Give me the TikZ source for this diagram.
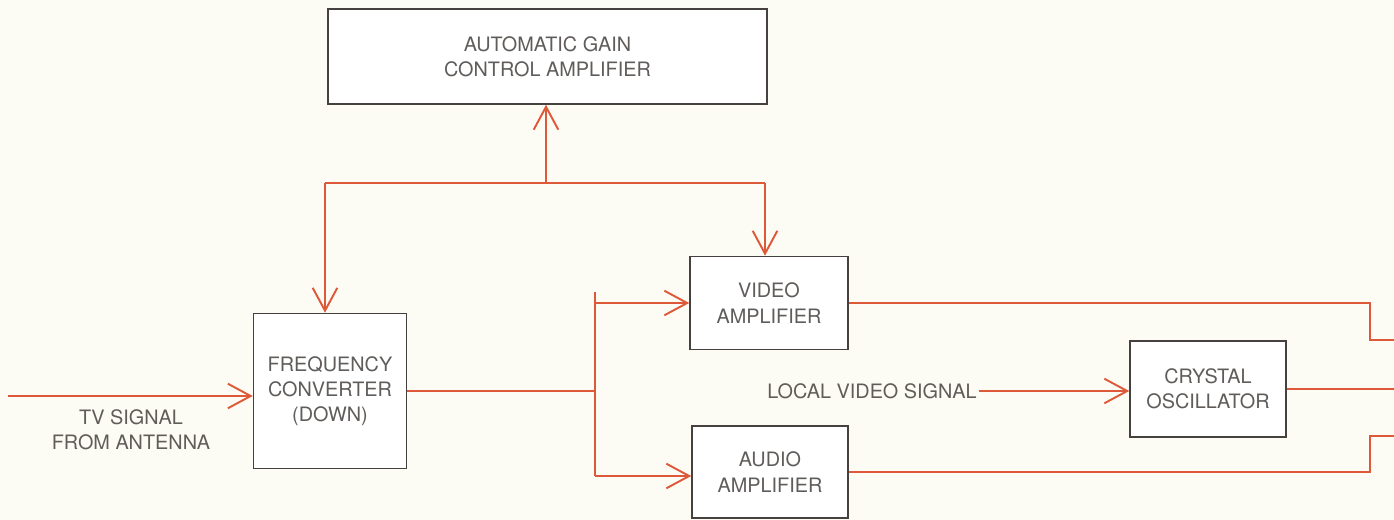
\documentclass[tikz,border=0pt]{standalone}
\usepackage{fontspec}
\setmainfont{TeX Gyre Heros}
\usepackage{tikz}
\usetikzlibrary{arrows.meta, positioning}
\definecolor{sigred}{RGB}{222, 88, 58}
\definecolor{boxgray}{RGB}{70, 64, 62}
\definecolor{txtgray}{RGB}{95, 92, 90}
\definecolor{paper}{RGB}{253, 252, 244}

\begin{document}
\begin{tikzpicture}[x=0.02cm, y=-0.02cm,
  every node/.style={font=\fontsize{11.3}{14.4}\selectfont, text=txtgray},
  block/.style={draw=boxgray, line width=0.9pt, fill=white, align=center, inner sep=2pt},
  sig/.style={draw=sigred, line width=1.1pt},
  tip/.style={-{Straight Barb[length=13pt, width=14pt, line width=1.1pt]}}]

% paper and frame
\fill[paper] (0,0) rectangle (1394,520);
\useasboundingbox (0,0) rectangle (1394,520);

% Blocks
\node[block, minimum width=8.78cm, minimum height=1.9cm] (agc) at (547.5, 56.5)
  {AUTOMATIC GAIN\\CONTROL AMPLIFIER};
\node[block, minimum width=3.06cm, minimum height=3.1cm] (freq) at (330, 391)
  {FREQUENCY\\CONVERTER\\(DOWN)};
\node[block, minimum width=3.16cm, minimum height=1.86cm] (video) at (769, 303)
  {VIDEO\\AMPLIFIER};
\node[block, minimum width=3.12cm, minimum height=1.84cm] (audio) at (770, 472)
  {AUDIO\\AMPLIFIER};
\node[block, minimum width=3.12cm, minimum height=1.92cm] (xtal) at (1208, 389)
  {CRYSTAL\\OSCILLATOR};

% Labels
\node[align=center] (tvlbl) at (131, 430) {TV SIGNAL\\FROM ANTENNA};
\node[inner sep=1pt] (lvs) at (872, 391) {LOCAL VIDEO SIGNAL};

% Helper coordinates
\coordinate (tvin) at (8, 396);
\coordinate (bustop) at (595, 292);
\coordinate (busbot) at (595, 476);
\coordinate (loopL) at (325, 183);
\coordinate (loopR) at (765, 183);
\coordinate (agcin) at (546, 183);
\coordinate (rbend) at (1370, 0);
\coordinate (redge) at (1394, 0);
\coordinate (vidout) at (1394, 340);
\coordinate (audout) at (1394, 436);

% Input
\draw[sig, tip] (tvin) -- (tvin -| freq.west);

% Feedback loop to AGC
\draw[sig, tip] (loopL) -- (freq.north -| loopL);
\draw[sig] (loopL) -- (loopR);
\draw[sig, tip] (loopR) -- (video.north -| loopR);
\draw[sig, tip] (agcin) -- (agcin |- agc.south);

% Split to amplifiers
\draw[sig] (freq.east) -- (freq.east -| bustop);
\draw[sig] (bustop) -- (busbot);
\draw[sig, tip] (bustop |- video.west) -- (video.west);
\draw[sig, tip] (busbot) -- (busbot -| audio.west);

% Local video signal
\draw[sig, tip] (lvs.east) -- (lvs.east -| xtal.west);

% Outputs
\draw[sig] (video.east) -- (video.east -| rbend) |- (vidout);
\draw[sig] (xtal.east) -- (xtal.east -| redge);
\draw[sig] (audio.east) -- (audio.east -| rbend) |- (audout);

\end{tikzpicture}
\end{document}
